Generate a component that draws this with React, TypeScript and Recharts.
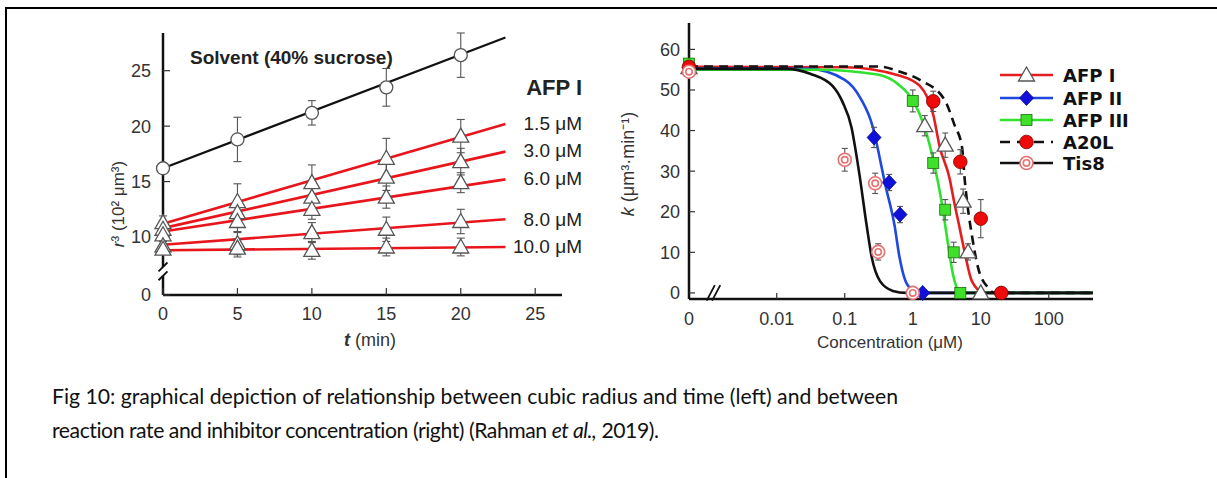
import {
  ComposedChart,
  Line,
  Scatter,
  XAxis,
  YAxis,
  ErrorBar,
  ReferenceLine,
} from "recharts";

// ---------- left panel: r^3 vs t ----------
const times = [0, 5, 10, 15, 20];
const fitTimes = [0, 23];

const solventR3 = [16.2, 18.8, 21.2, 23.5, 26.4];
const solventErr = [0, 2.0, 1.1, 1.7, 2.0];
const solventFit = [16.2, 28.0];

const afpLabels = ["1.5 μM", "3.0 μM", "6.0 μM", "8.0 μM", "10.0 μM"];
const afpR3 = [
  [11.3, 13.2, 14.9, 17.1, 19.1],
  [10.7, 12.2, 13.6, 15.4, 16.8],
  [10.2, 11.4, 12.5, 13.6, 14.9],
  [9.2, 9.4, 10.4, 10.7, 11.4],
  [8.9, 9.0, 8.8, 9.1, 9.1],
];
const afpErr = [
  [0.6, 1.6, 1.6, 1.8, 1.5],
  [0.5, 1.0, 1.0, 1.2, 1.2],
  [0.5, 0.9, 0.9, 1.0, 0.9],
  [0.4, 1.0, 0.9, 1.1, 1.1],
  [0.4, 0.8, 0.8, 0.8, 0.8],
];
const afpFit = [
  [11.2, 20.2],
  [10.8, 17.7],
  [10.5, 15.2],
  [9.3, 11.6],
  [8.8, 9.1],
];
const leftXTicks = [0, 5, 10, 15, 20, 25];
const LEFT_ZERO = 4.77; // y value where the broken axis shows "0"
const leftYTicks = [LEFT_ZERO, 10, 15, 20, 25];

// ---------- right panel: k vs concentration ----------
const ZERO_LOG = -3.29; // position of "0" left of the axis break
const concTicks = [0, 0.01, 0.1, 1, 10, 100];
const kTicks = [0, 10, 20, 30, 40, 50, 60];

const afp1Conc = [0, 1.5, 3, 5.5, 6.5, 10];
const afp1K = [55.5, 41.2, 36.4, 22.6, 10.1, 0];
const afp1Err = [0, 2.5, 3, 3, 2, 0];
const afp1FitConc = [0, 0.1, 0.65, 1.27, 2.0, 2.5, 3.5, 3.9, 4.9, 5.8, 7.4, 10.7, 14, 445];
const afp1FitK = [55.7, 55.6, 53.5, 51, 43.9, 35.9, 28, 23.9, 15.9, 10, 2.9, 0.2, 0, 0];

const afp2Conc = [0, 0.27, 0.45, 0.65, 1.4];
const afp2K = [55.5, 38.3, 27.2, 19.3, 0];
const afp2Err = [0, 2.5, 2, 2, 0];
const afp2FitConc = [0, 0.03, 0.1, 0.17, 0.26, 0.32, 0.39, 0.54, 0.64, 0.82, 1.15, 1.5, 445];
const afp2FitK = [55.3, 55.2, 52.5, 48, 40.7, 34, 27, 16.6, 8.7, 2.2, 0.2, 0, 0];

const afp3Conc = [0, 1, 2, 3, 4, 5];
const afp3K = [56.5, 47.3, 32, 20.5, 10, 0];
const afp3Err = [0, 2.7, 2.5, 2.5, 2.5, 0];
const afp3FitConc = [0, 0.04, 0.3, 0.6, 1.0, 1.5, 2.0, 2.67, 3.27, 3.9, 4.6, 5.5, 445];
const afp3FitK = [55, 55, 53.8, 51.5, 47.5, 40.7, 32.8, 22.2, 12.5, 4.6, 0.8, 0, 0];

const a20lConc = [0, 2, 5, 10, 20];
const a20lK = [55.7, 47.2, 32.3, 18.3, 0];
const a20lErr = [0, 2.5, 3, 4.7, 0];
const a20lFitConc = [0, 0.3, 0.65, 1.27, 2.95, 4.1, 5.3, 5.8, 6.4, 7.4, 9.1, 12.6, 16, 445];
const a20lFitK = [55.8, 55.8, 54.5, 52.5, 47.5, 41.4, 35.9, 28, 21.4, 14.2, 6.3, 1.4, 0, 0];

const tis8Conc = [0, 0.1, 0.28, 0.31, 1.0];
const tis8K = [54.5, 32.8, 27, 10.1, 0];
const tis8Err = [0, 2.8, 2.5, 2, 1.5];
const tis8FitConc = [0, 0.014, 0.031, 0.066, 0.093, 0.126, 0.145, 0.166, 0.21, 0.25, 0.33, 0.51, 0.8, 445];
const tis8FitK = [55.2, 55.2, 54, 51, 47, 40.7, 35, 28.7, 16.6, 8.7, 2.9, 0.5, 0, 0];

const FONT = "'Liberation Sans', Arial, sans-serif";
const tickStyle = { fontSize: 18, fill: "#333", fontFamily: FONT };

const logPos = (c: number) => (c === 0 ? ZERO_LOG : Math.log10(c));
const concLabel = (v: number) => {
  const c = concTicks.find((t) => Math.abs(logPos(t) - v) < 1e-6);
  return c === undefined ? "" : String(c);
};

// ---------- marker shapes ----------
const TriShape = (p: any) => (
  <path
    d={`M${p.cx},${p.cy - 8}L${p.cx + 8},${p.cy + 6}L${p.cx - 8},${p.cy + 6}Z`}
    fill="#fff"
    stroke="#555"
    strokeWidth={1.3}
  />
);
const OpenCircle = (p: any) => (
  <circle cx={p.cx} cy={p.cy} r={6.5} fill="#fff" stroke="#555" strokeWidth={1.3} />
);
const Diamond = (p: any) => (
  <path
    d={`M${p.cx},${p.cy - 7.5}L${p.cx + 7},${p.cy}L${p.cx},${p.cy + 7.5}L${p.cx - 7},${p.cy}Z`}
    fill="#1010d8"
    stroke="#0a0a90"
    strokeWidth={0.8}
  />
);
const Square = (p: any) => (
  <rect x={p.cx - 5.5} y={p.cy - 5.5} width={11} height={11} fill="#3fe02a" stroke="#1f6a10" strokeWidth={0.8} />
);
const RedDot = (p: any) => (
  <circle cx={p.cx} cy={p.cy} r={6.8} fill="#ee0a0a" stroke="#7a0000" strokeWidth={0.8} />
);
const Ring = (p: any) => (
  <g>
    <circle cx={p.cx} cy={p.cy} r={6.5} fill="#fff" stroke="#e87070" strokeWidth={1.6} />
    <circle cx={p.cx} cy={p.cy} r={3.2} fill="#fff" stroke="#e87070" strokeWidth={1.6} />
  </g>
);

const rightSeries = [
  { name: "AFP I", conc: afp1Conc, k: afp1K, err: afp1Err, fc: afp1FitConc, fk: afp1FitK, color: "#e41e1e", dash: undefined, shape: TriShape },
  { name: "AFP II", conc: afp2Conc, k: afp2K, err: afp2Err, fc: afp2FitConc, fk: afp2FitK, color: "#1f48e0", dash: undefined, shape: Diamond },
  { name: "AFP III", conc: afp3Conc, k: afp3K, err: afp3Err, fc: afp3FitConc, fk: afp3FitK, color: "#2ee22e", dash: undefined, shape: Square },
  { name: "A20L", conc: a20lConc, k: a20lK, err: a20lErr, fc: a20lFitConc, fk: a20lFitK, color: "#111", dash: "9 6", shape: RedDot },
  { name: "Tis8", conc: tis8Conc, k: tis8K, err: tis8Err, fc: tis8FitConc, fk: tis8FitK, color: "#111", dash: undefined, shape: Ring },
];

const pts = (xs: number[], ys: number[], errs?: number[]) =>
  xs.map((x, i) => ({ x, y: ys[i], err: errs ? errs[i] : 0 }));

const abs = (left: number, top: number, extra: any = {}) => ({
  position: "absolute" as const,
  left,
  top,
  whiteSpace: "nowrap" as const,
  fontFamily: FONT,
  ...extra,
});

function LeftChart() {
  const lineColor = "#e8161c";
  return (
    <div style={{ position: "absolute", left: 100, top: 20 }}>
      <ComposedChart width={490} height={320} margin={{ top: 13, right: 28, bottom: 0, left: 0 }}>
        <XAxis
          type="number"
          dataKey="x"
          domain={[0, 26.8]}
          ticks={leftXTicks}
          tick={tickStyle}
          height={45}
          tickSize={-7}
          tickMargin={19}
          axisLine={{ stroke: "#111", strokeWidth: 2.5 }}
          tickLine={{ stroke: "#333", strokeWidth: 1.2 }}
        />
        <YAxis
          type="number"
          dataKey="y"
          domain={[LEFT_ZERO, 28.4]}
          ticks={leftYTicks}
          tickFormatter={(v: number) => (v === LEFT_ZERO ? "0" : String(v))}
          tick={tickStyle}
          width={63}
          tickSize={-7}
          tickMargin={19}
          axisLine={false}
          tickLine={{ stroke: "#333", strokeWidth: 1.2 }}
        />
        {/* broken y axis */}
        <ReferenceLine segment={[{ x: 0, y: LEFT_ZERO }, { x: 0, y: 6.5 }]} stroke="#111" strokeWidth={2.5} ifOverflow="visible" />
        <ReferenceLine segment={[{ x: 0, y: 7.3 }, { x: 0, y: 28.4 }]} stroke="#111" strokeWidth={2.5} ifOverflow="visible" />
        <ReferenceLine segment={[{ x: -0.3, y: 6.1 }, { x: 0.3, y: 6.9 }]} stroke="#111" strokeWidth={1.8} ifOverflow="visible" />
        <ReferenceLine segment={[{ x: -0.3, y: 6.9 }, { x: 0.3, y: 7.7 }]} stroke="#111" strokeWidth={1.8} ifOverflow="visible" />

        <Line data={pts(fitTimes, solventFit)} dataKey="y" stroke="#111" strokeWidth={2.2} dot={false} isAnimationActive={false} />
        {afpFit.map((f, i) => (
          <Line key={"f" + i} data={pts(fitTimes, f)} dataKey="y" stroke={lineColor} strokeWidth={2.6} dot={false} isAnimationActive={false} />
        ))}
        {afpR3.map((ys, i) => (
          <Scatter key={"s" + i} data={pts(times, ys, afpErr[i])} dataKey="y" shape={TriShape} isAnimationActive={false}>
            <ErrorBar dataKey="err" direction="y" width={4} stroke="#555" strokeWidth={1.1} />
          </Scatter>
        ))}
        <Scatter data={pts(times, solventR3, solventErr)} dataKey="y" shape={OpenCircle} isAnimationActive={false}>
          <ErrorBar dataKey="err" direction="y" width={4} stroke="#555" strokeWidth={1.1} />
        </Scatter>
      </ComposedChart>
    </div>
  );
}

function RightChart() {
  return (
    <div style={{ position: "absolute", left: 600, top: 10 }}>
      <ComposedChart width={520} height={350} margin={{ top: 13, right: 27, bottom: 0, left: 0 }}>
        <XAxis
          type="number"
          dataKey="x"
          domain={[ZERO_LOG, 2.65]}
          ticks={concTicks.map(logPos)}
          tickFormatter={concLabel}
          tick={tickStyle}
          height={61}
          tickSize={-6}
          tickMargin={19}
          axisLine={{ stroke: "#111", strokeWidth: 2.5 }}
          tickLine={{ stroke: "#333", strokeWidth: 1.2 }}
        />
        <YAxis
          type="number"
          dataKey="y"
          domain={[0, 66.5]}
          ticks={kTicks}
          tick={tickStyle}
          width={89}
          tickSize={-6}
          tickMargin={15}
          axisLine={{ stroke: "#111", strokeWidth: 2.5 }}
          tickLine={{ stroke: "#333", strokeWidth: 1.2 }}
        />
        {/* x axis break */}
        <ReferenceLine segment={[{ x: -3.03, y: -1.9 }, { x: -2.91, y: 1.9 }]} stroke="#111" strokeWidth={1.8} ifOverflow="visible" />
        <ReferenceLine segment={[{ x: -2.95, y: -1.9 }, { x: -2.83, y: 1.9 }]} stroke="#111" strokeWidth={1.8} ifOverflow="visible" />

        {rightSeries.map((s) => (
          <Line
            key={"fit" + s.name}
            data={pts(s.fc.map(logPos), s.fk)}
            dataKey="y"
            type="monotone"
            stroke={s.color}
            strokeWidth={2.6}
            strokeDasharray={s.dash}
            dot={false}
            isAnimationActive={false}
          />
        ))}
        {rightSeries.map((s) => (
          <Scatter key={"pt" + s.name} data={pts(s.conc.map(logPos), s.k, s.err)} dataKey="y" shape={s.shape} isAnimationActive={false}>
            <ErrorBar dataKey="err" direction="y" width={3} stroke="#555" strokeWidth={1.1} />
          </Scatter>
        ))}
      </ComposedChart>
    </div>
  );
}

function RightLegend() {
  const rowY = [15, 38, 60, 82, 103];
  return (
    <svg style={{ position: "absolute", left: 995, top: 60 }} width={190} height={120}>
      {rightSeries.map((s, i) => {
        const Shape = s.shape;
        return (
          <g key={s.name}>
            <line x1={5} x2={58} y1={rowY[i]} y2={rowY[i]} stroke={s.color} strokeWidth={2.6} strokeDasharray={s.dash ? "10 7" : undefined} />
            <Shape cx={31.5} cy={rowY[i]} />
            <text x={68} y={rowY[i] + 6.5} fontFamily="'DejaVu Sans', sans-serif" fontWeight="bold" fontSize={18} fill="#111">
              {s.name}
            </text>
          </g>
        );
      })}
    </svg>
  );
}

const captionFont = "Lato, 'Open Sans', sans-serif";

export default function App() {
  const labelTops = [124, 151, 179, 220, 247];
  return (
    <div style={{ position: "absolute", left: 0, top: 0, width: 1217, height: 478, background: "#fff", overflow: "hidden" }}>
      <div style={{ position: "absolute", left: 5, top: 7, width: 1300, height: 600, border: "2px solid #000" }} />

      <LeftChart />
      <RightChart />
      <RightLegend />

      {/* left panel texts */}
      <div style={abs(190, 58, { fontSize: 19, fontWeight: "bold", color: "#222", transform: "translateY(-50%)" })}>
        Solvent (40% sucrose)
      </div>
      <div style={abs(582, 88, { fontSize: 22, fontWeight: "bold", color: "#222", transform: "translate(-100%, -50%)" })}>AFP I</div>
      {afpLabels.map((l, i) => (
        <div key={l} style={abs(582, labelTops[i], { fontSize: 19, color: "#222", transform: "translate(-100%, -50%)" })}>
          {l}
        </div>
      ))}
      <div style={abs(370, 340, { fontSize: 18, color: "#333", transform: "translate(-50%, -50%)" })}>
        <b>
          <i>t</i>
        </b>{" "}
        (min)
      </div>
      <div style={abs(119, 204, { fontSize: 17, color: "#333", transform: "translate(-50%, -50%) rotate(-90deg)" })}>
        <i>r</i>³ (10² μm³)
      </div>

      {/* right panel texts */}
      <div style={abs(890, 343, { fontSize: 17, color: "#333", transform: "translate(-50%, -50%)" })}>Concentration (μM)</div>
      <div style={abs(627, 164, { fontSize: 18, color: "#333", transform: "translate(-50%, -50%) rotate(-90deg)" })}>
        <i>k</i> (μm³·min⁻¹)
      </div>

      {/* caption */}
      <div style={abs(52, 379, { fontFamily: captionFont, fontSize: 21.2, lineHeight: "34px", color: "#111" })}>
        Fig 10: graphical depiction of relationship between cubic radius and time (left) and between
      </div>
      <div style={abs(52, 413, { fontFamily: captionFont, fontSize: 21.2, lineHeight: "34px", color: "#111", letterSpacing: "-0.45px" })}>
        reaction rate and inhibitor concentration (right) (Rahman <i>et al.,</i> 2019).
      </div>
    </div>
  );
}
